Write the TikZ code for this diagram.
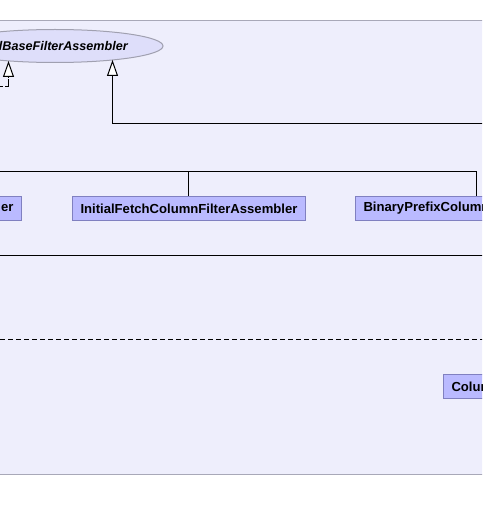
\documentclass[tikz,border=0pt]{standalone}
\usepackage{fontspec}
\setmainfont{Liberation Sans}
\usetikzlibrary{arrows.meta,shapes.geometric}
\definecolor{panelfill}{RGB}{238,238,252}
\definecolor{panelline}{RGB}{168,168,184}
\definecolor{boxfill}{RGB}{186,186,255}
\definecolor{boxline}{RGB}{128,128,192}
\definecolor{ellfill}{RGB}{222,222,250}
\definecolor{ellline}{RGB}{160,160,176}
\tikzset{
  classbox/.style={draw=boxline, fill=boxfill, line width=1pt, inner xsep=8pt, inner ysep=0pt,
    minimum height=24.5pt, font=\fontsize{13.1}{15}\selectfont\bfseries},
  gen/.style={line width=1pt, -{Triangle[fill=white,length=16pt,width=11pt,line width=1pt]}},
  link/.style={line width=1pt},
  realiz/.style={line width=1pt, dash pattern=on 3pt off 2pt on 11pt off 2pt, -{Triangle[fill=white,length=16pt,width=11pt,line width=1pt]}},
}
\begin{document}
\begin{tikzpicture}[x=1pt,y=-1pt]
\useasboundingbox (0,0) rectangle (482,513);
\clip (0,0) rectangle (482,513);
% panel
\path[fill=panelfill] (-10,20) rectangle (492,475);
\draw[panelline, line width=1pt] (-10,20.5) -- (492,20.5);
\draw[panelline, line width=1pt] (-10,474.5) -- (492,474.5);
% ellipse interface
\node[draw=ellline, fill=ellfill, line width=1pt, ellipse, inner sep=0pt, minimum width=216pt, minimum height=33pt] (ell) at (55,46) {};
\node[anchor=east, inner sep=0pt, font=\fontsize{12.6}{15}\selectfont\bfseries\itshape] (elltxt) at (128,46) {lBaseFilterAssembler};
% boxes
\node[classbox, anchor=east] (er) at (22,208.5) {er};
\node[classbox, anchor=west] (ifc) at (72,208.5) {InitialFetchColumnFilterAssembler};
\node[classbox, anchor=west] (bpc) at (355,208.5) {BinaryPrefixColumnFilterAssembler};
\node[classbox, anchor=west] (col) at (443,386.5) {ColumnFilterAssembler};
% connectors
\coordinate (tipA) at (8.5,61);
\coordinate (tipB) at (112.5,60);
\coordinate (freeA) at (0,86.5);
\coordinate (freeB) at (490,124);
\coordinate (busL) at (-5,171);
\coordinate (busR) at (476,171);
\draw[realiz] (freeA) -| (tipA);
\draw[gen] (freeB) -| (tipB);
\draw[link] (busL) -- (busR) -- (busR |- bpc.north);
\draw[link] (ifc.north) -- (ifc.north |- busL);
\coordinate (lineL) at (-5,255);
\coordinate (lineR) at (490,255);
\draw[link] (lineL) -- (lineR);
\coordinate (dashL) at (0,339);
\coordinate (dashR) at (490,339);
\draw[link, dash pattern=on 5pt off 3pt] (dashL) -- (dashR);
\end{tikzpicture}
\end{document}
